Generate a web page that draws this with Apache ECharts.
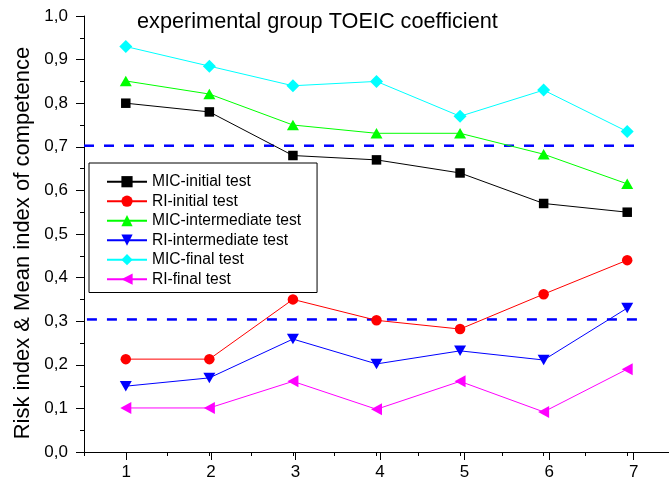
<!DOCTYPE html>
<html><head><meta charset="utf-8">
<script src="https://cdn.jsdelivr.net/npm/echarts@6/dist/echarts.min.js"></script>
<style>html,body{margin:0;padding:0;background:#fff}#c{width:669px;height:482px}</style>
</head><body><div id="c"></div>
<script>
const categories = [1, 2, 3, 4, 5, 6, 7];
const micInitial = [0.80, 0.78, 0.68, 0.67, 0.64, 0.57, 0.55];
const riInitial = [0.213, 0.213, 0.35, 0.302, 0.282, 0.362, 0.44];
const micIntermediate = [0.851, 0.821, 0.75, 0.731, 0.731, 0.683, 0.615];
const riIntermediate = [0.151, 0.17, 0.259, 0.202, 0.232, 0.211, 0.33];
const micFinal = [0.93, 0.885, 0.84, 0.85, 0.77, 0.83, 0.735];
const riFinal = [0.101, 0.101, 0.162, 0.098, 0.162, 0.092, 0.19];
const refLevels = [0.7025, 0.304];
const refStart = [0.5, 0.535];
const refEnd = [7.12, 7.17];
const titleText = 'experimental group TOEIC coefficient';
const yAxisTitle = 'Risk index & Mean index of competence';

const FONT = '"Liberation Sans", Arial, sans-serif';
const pairs = vals => categories.map((c, i) => [c, vals[i]]);

const defs = [
  {name: 'MIC-initial test', data: micInitial, color: '#000000', symbol: 'rect', size: 9.5},
  {name: 'RI-initial test', data: riInitial, color: '#ff0000', symbol: 'circle', size: 10.5},
  {name: 'MIC-intermediate test', data: micIntermediate, color: '#00ff00', symbol: 'triangle', size: [12, 10.5]},
  {name: 'RI-intermediate test', data: riIntermediate, color: '#0000ff', symbol: 'path://M0,0L10,0L5,9Z', size: [12, 10.5]},
  {name: 'MIC-final test', data: micFinal, color: '#00ffff', symbol: 'diamond', size: [13, 13]},
  {name: 'RI-final test', data: riFinal, color: '#ff00ff', symbol: 'path://M0,5L9,0L9,10Z', size: [11, 12]}
];

const series = [];
refLevels.forEach((lv, i) => {
  series.push({
    type: 'line', silent: true, symbol: 'none', xAxisIndex: 0, yAxisIndex: 0,
    data: [[refStart[i], lv], [refEnd[i], lv]],
    lineStyle: {color: '#0000ff', width: 2.5, type: [10, 10]}, z: 1
  });
});
defs.forEach(d => {
  series.push({
    name: d.name, type: 'line', xAxisIndex: 0, yAxisIndex: 0,
    data: pairs(d.data), symbol: d.symbol, symbolSize: d.size,
    itemStyle: {color: d.color}, lineStyle: {color: d.color, width: 1},
    emphasis: {disabled: true}, animation: false, z: 3
  });
});

const chart = echarts.init(document.getElementById('c'), null, {renderer: 'canvas'});
const gLeft = 84, gRight = -7;
const unit = (669 - gLeft - gRight) / 7;
chart.setOption({
  animation: false,
  backgroundColor: '#ffffff',
  title: {
    text: titleText, left: 137, top: 11.5, padding: 0,
    textStyle: {fontFamily: FONT, fontSize: 21.7, fontWeight: 'normal', color: '#000'}
  },
  graphic: [{
    type: 'text', x: 23, y: 243, rotation: Math.PI / 2,
    style: {text: yAxisTitle, fontFamily: FONT, fontSize: 22, fill: '#000', align: 'center', verticalAlign: 'middle'}
  }],
  legend: {
    orient: 'vertical', left: 89, top: 163,
    padding: [10.7, 16, 5.3, 17],
    itemWidth: 40, itemHeight: 14, itemGap: 3.5,
    borderColor: '#000', borderWidth: 1, backgroundColor: '#fff',
    textStyle: {fontFamily: FONT, fontSize: 15.6, color: '#000'},
    data: defs.map(d => d.name), selectedMode: false
  },
  grid: [
    {left: gLeft, right: gRight, top: 16, bottom: 30, containLabel: false},
    {left: gLeft + unit * 0.5, right: 669 - (gLeft + unit * 6.5), top: 16, bottom: 30, containLabel: false}
  ],
  xAxis: [
    {
      type: 'value', gridIndex: 0, min: 0.5, max: 7.5, interval: 0.5,
      axisLine: {show: true, lineStyle: {color: '#000', width: 1}},
      axisTick: {show: true, length: 4, lineStyle: {color: '#000', width: 1}},
      axisLabel: {show: false}, splitLine: {show: false}
    },
    {
      type: 'value', gridIndex: 1, min: 1, max: 7, interval: 1,
      axisLine: {show: false},
      axisTick: {show: true, length: 8, lineStyle: {color: '#000', width: 1}},
      axisLabel: {show: true, margin: 12, fontFamily: FONT, fontSize: 17, color: '#000', formatter: v => String(v)},
      splitLine: {show: false}
    }
  ],
  yAxis: [
    {
      type: 'value', gridIndex: 0, min: 0, max: 1, interval: 0.1,
      axisLine: {show: true, lineStyle: {color: '#000', width: 1}},
      axisTick: {show: true, length: 8, lineStyle: {color: '#000', width: 1}},
      minorTick: {show: true, splitNumber: 2, length: 4, lineStyle: {color: '#000', width: 1}},
      axisLabel: {margin: 16, fontFamily: FONT, fontSize: 17, color: '#000', formatter: v => v.toFixed(1).replace('.', ',')},
      splitLine: {show: false}
    },
    {type: 'value', gridIndex: 1, min: 0, max: 1, show: false}
  ],
  series: series
});
</script></body></html>
